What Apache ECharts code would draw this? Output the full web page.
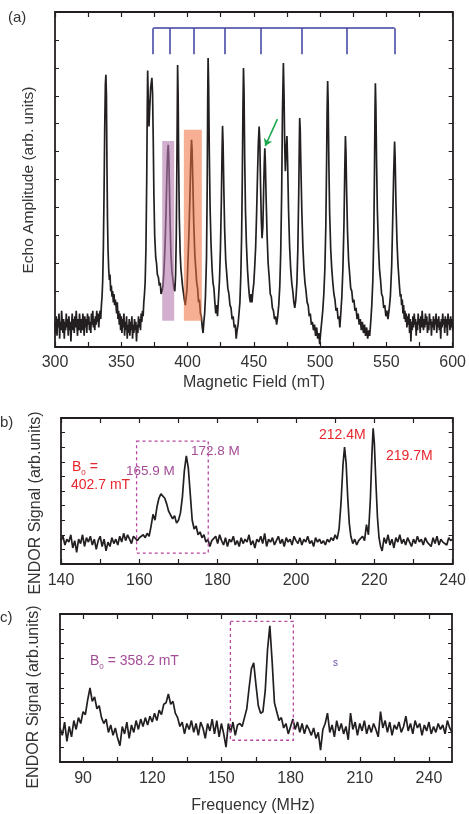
<!DOCTYPE html>
<html>
<head>
<meta charset="utf-8">
<script src="https://cdn.jsdelivr.net/npm/echarts@6/dist/echarts.min.js"></script>
<style>
html, body { margin: 0; background: #fff; }
#chart { width: 469px; height: 814px; }
</style>
</head>
<body>
<div id="chart"></div>
<script>
// (a) echo-detected field sweep: [field mT, amplitude]
const echoData = [
  [300,0.9],[300.5,0.5],[301,1.1],[301.5,0.4],[302,1.0],[302.5,0.7],[303,1.2],[303.5,0.3],[304,0.9],[304.5,0.6],
  [305,1.3],[305.5,0.8],[306,0.5],[306.5,1.0],[307,0.3],[307.5,0.9],[308,0.6],[308.5,1.2],[309,0.7],[309.5,1.0],
  [310,0.4],[310.5,1.1],[311,0.6],[311.5,0.9],[312,0.2],[312.5,0.8],[313,1.2],[313.5,0.6],[314,1.0],[314.5,0.5],
  [315,1.1],[315.5,0.7],[316,1.3],[316.5,0.8],[317,0.4],[317.5,1.0],[318,0.6],[318.5,1.2],[319,0.8],[319.5,0.5],
  [320,1.0],[320.5,0.6],[321,1.2],[321.5,0.9],[322,0.4],[322.5,1.1],[323,0.7],[323.5,1.0],[324,0.5],[324.5,1.2],
  [325,0.8],[325.5,1.1],[326,0.6],[326.5,0.9],[327,0.5],[327.5,1.2],[328,0.8],[328.5,1.3],[329,0.7],[329.5,1.0],
  [330,0.6],[330.5,1.1],[331,0.8],[331.5,1.3],[332,0.9],[332.5,1.2],[333,0.7],[333.5,1.1],[334,1.3],[334.5,1.0],
  [335,1.5],[335.5,1.8],[336,2.4],[336.5,3.6],[337,5.5],[337.5,7.8],[338,9.4],[338.4,9.75],[338.8,9.0],[339.2,6.5],
  [339.6,4.6],[340,3.5],[340.5,2.8],[341,2.4],[341.5,2.6],[342,2.0],[342.5,2.2],[343,1.8],[343.5,2.0],[344,1.6],
  [344.5,1.9],[345,1.5],[345.5,1.7],[346,1.5],[346.5,1.2],[347,1.6],[347.5,1.0],[348,1.3],[348.5,0.8],[349,1.2],
  [349.5,0.6],[350,1.1],[350.5,0.5],[351,1.0],[351.5,0.7],[352,1.2],[352.5,0.4],[353,0.9],[353.5,0.6],[354,1.1],
  [354.5,0.3],[355,0.8],[355.5,0.5],[356,1.0],[356.5,0.4],[357,0.9],[357.5,0.6],[358,1.1],[358.5,0.3],[359,0.8],
  [359.5,0.5],[360,1.0],[360.5,0.6],[361,0.9],[361.5,0.2],[362,0.8],[362.5,0.5],[363,1.1],[363.5,0.7],[364,1.0],
  [364.5,0.6],[365,1.2],[365.5,0.9],[366,1.3],[366.5,1.1],[367,1.6],[367.5,1.9],[368,2.3],[368.6,3.5],[369.2,6.0],
  [369.6,8.5],[369.9,9.9],[370.4,8.8],[370.9,7.9],[371.5,8.6],[372.2,9.3],[373.1,9.64],[373.6,9.1],[374.1,7.5],[374.6,5.5],
  [375.2,4.0],[376,3.2],[376.6,3.0],[377.2,2.6],[378,2.5],[378.7,2.2],[379.4,2.3],[380,1.9],[380.8,2.0],[381.5,2.2],
  [382.3,2.8],[383,3.6],[383.8,4.9],[384.5,6.3],[385,7.0],[385.4,7.24],[385.8,6.9],[386.3,5.8],[386.9,4.3],[387.5,3.3],
  [388.2,2.7],[389,2.4],[389.7,2.1],[390.4,2.0],[391,2.6],[391.5,4.0],[392,6.8],[392.5,10.1],[392.9,9.0],[393.3,6.6],
  [393.8,4.6],[394.4,3.4],[395,2.8],[395.6,2.5],[396.2,2.2],[397,1.9],[397.6,1.7],[398.3,1.5],[399,1.8],[399.6,2.1],
  [400.2,2.9],[401,4.0],[401.8,5.4],[402.5,6.8],[403,7.42],[403.4,7.1],[404,5.9],[404.7,4.4],[405.5,3.3],[406.2,2.8],
  [406.9,2.3],[407.6,2.1],[408.3,1.6],[409,1.7],[409.7,1.2],[410.4,1.1],[411.1,0.7],[411.7,0.5],[412.3,0.9],[412.9,1.2],
  [413.5,1.8],[414.3,3.2],[414.8,5.6],[415.2,8.8],[415.5,10.35],[415.9,9.4],[416.4,7.0],[417,5.0],[417.7,3.7],[418.5,2.8],
  [419.2,2.3],[419.9,2.1],[420.6,1.6],[421.3,1.2],[421.9,1.5],[422.6,1.1],[423.3,1.7],[424.1,2.4],[424.8,3.5],[425.5,5.2],
  [426,6.9],[426.4,7.92],[426.8,7.3],[427.4,5.6],[428,4.2],[428.8,3.1],[429.6,2.6],[430.4,2.1],[431.2,1.9],[432,1.5],
  [432.8,1.4],[433.6,1.0],[434.4,1.1],[435.2,0.7],[436,0.8],[436.7,0.3],[437.4,0.6],[438.1,0.8],[438.8,1.2],[439.5,1.6],
  [440.2,2.6],[440.8,4.0],[441.3,6.0],[441.8,8.6],[442.2,9.99],[442.6,9.2],[443.1,6.8],[443.7,4.9],[444.4,3.7],[445.2,2.8],
  [446,2.2],[446.7,1.8],[447.4,1.6],[448,1.9],[448.6,1.6],[449.3,2.0],[450,2.3],[450.7,2.9],[451.4,3.6],[452.1,4.8],
  [452.8,6.2],[453.4,7.3],[454,7.9],[454.5,7.4],[455,6.0],[455.6,4.6],[456.2,3.9],[456.8,4.3],[457.4,5.6],[457.9,6.6],
  [458.3,7.12],[458.7,6.6],[459.3,5.3],[460,4.0],[460.8,3.0],[461.6,2.5],[462.4,1.9],[463.2,1.8],[464,1.4],[464.8,1.3],
  [465.6,1.0],[466.4,1.1],[467.2,0.8],[468,1.1],[468.8,1.5],[469.6,2.2],[470.3,3.4],[471,5.5],[471.6,8.4],[472.3,10.17],
  [472.8,9.0],[473.3,7.2],[473.8,6.3],[474.3,7.0],[475,7.56],[475.5,6.6],[476.2,4.9],[477,3.6],[477.8,2.8],[478.6,2.3],
  [479.4,2.0],[480.2,1.6],[480.9,1.4],[481.7,1.7],[482.5,2.3],[483.2,3.5],[483.9,5.6],[484.3,7.2],[484.6,8.2],[485,7.8],
  [485.5,6.5],[486.2,4.9],[487,3.6],[487.8,2.8],[488.6,2.3],[489.4,2.0],[490.2,1.6],[491,1.5],[491.8,1.1],[492.6,1.2],
  [493.4,0.8],[494.2,0.9],[495,0.6],[495.8,0.8],[496.6,0.4],[497.4,0.7],[498.2,0.3],[499,0.5],[499.7,0.1],[500.4,0.5],
  [501.2,0.9],[502,1.3],[502.8,1.9],[503.6,2.8],[504.3,4.3],[504.9,6.6],[505.3,8.5],[505.7,9.53],[506.1,8.7],[506.6,6.6],
  [507.2,4.8],[508,3.5],[508.8,2.8],[509.6,2.3],[510.4,1.9],[511.2,1.7],[512,1.3],[512.8,1.4],[513.6,1.0],[514.3,1.1],
  [514.9,0.7],[515.6,1.2],[516.4,1.8],[517.2,2.8],[518,4.4],[518.6,6.3],[519.1,7.56],[519.5,7.0],[520,5.6],[520.7,4.1],
  [521.5,3.1],[522.3,2.6],[523.1,2.1],[523.9,2.0],[524.7,1.6],[525.5,1.7],[526.3,1.3],[527.1,1.4],[527.9,1.0],[528.7,1.2],
  [529.5,0.8],[530.3,1.0],[531.1,0.6],[531.9,0.9],[532.7,0.5],[533.5,0.8],[534.3,0.4],[535.1,0.7],[535.9,0.3],[536.7,0.6],
  [537.4,0.4],[538.2,0.9],[539,1.5],[539.8,2.4],[540.5,4.0],[541,6.2],[541.4,8.4],[541.7,9.45],[542.1,8.6],[542.6,6.6],
  [543.2,4.9],[544,3.6],[544.8,2.8],[545.6,2.4],[546.4,1.9],[547.2,1.8],[548,1.4],[548.8,1.5],[549.6,1.1],[550.4,1.3],
  [551.2,1.0],[552,1.3],[553,1.8],[554,2.9],[554.8,4.6],[555.5,6.2],[556.2,7.36],[556.6,6.8],[557.2,5.2],[558,3.8],
  [558.7,3.0],[559.4,2.5],[560,2.1],[560.5,1.8],[561,1.9],[561.5,1.5],[562,1.7],[562.5,1.2],[563,1.5],[563.5,1.0],
  [564,1.3],[564.5,0.9],[565,1.2],[565.5,0.7],[566,1.1],[566.5,0.8],[567,1.2],[567.5,0.5],[568,1.0],[568.5,0.2],
  [569,0.9],[569.5,0.6],[570,1.1],[570.5,0.7],[571,1.2],[571.5,0.8],[572,1.0],[572.5,0.4],[573,0.9],[573.5,0.6],
  [574,1.2],[574.5,0.8],[575,1.0],[575.5,0.5],[576,1.1],[576.5,0.7],[577,1.3],[577.5,0.9],[578,0.6],[578.5,1.0],
  [579,0.7],[579.5,1.2],[580,0.8],[580.5,1.1],[581,0.5],[581.5,0.9],[582,0.6],[582.5,1.2],[583,0.8],[583.5,1.0],
  [584,0.4],[584.5,0.9],[585,0.7],[585.5,1.1],[586,0.6],[586.5,1.0],[587,0.8],[587.5,1.2],[588,0.5],[588.5,1.0],
  [589,0.7],[589.5,1.1],[590,0.6],[590.5,0.9],[591,0.3],[591.5,1.0],[592,0.7],[592.5,1.2],[593,0.8],[593.5,1.0],
  [594,0.5],[594.5,1.1],[595,0.7],[595.5,1.0],[596,0.4],[596.5,1.2],[597,0.8],[597.5,1.0],[598,0.6],[598.5,1.1],
  [599,0.7],[599.5,1.0],[600,0.6]
];

// (a) comb of line positions (mT) and its top / tooth levels
const combFields = [374.1, 386.9, 404.7, 428.1, 455, 485.9, 519.8, 556.2];
const combTop = 11.42;
const combTooth = 10.49;
// highlighted field windows [x0, x1, y0, y1]
const pinkBox = [380.9, 389.9, 0.94, 7.38];
const orangeBox = [397.2, 410.8, 0.94, 7.78];
// arrow from -> to
const arrowFrom = [467.8, 8.16];
const arrowTo = [458.6, 7.2];

// (b) ENDOR at 402.7 mT: [MHz, signal]
const endorB = [
  [140,1.6],[140.5,1.9],[141,1.3],[141.5,1.7],[142,1.5],[142.5,2.0],[143,1.1],[143.5,1.6],[144,0.8],[144.5,1.7],
  [145,1.4],[145.5,2.0],[146,1.2],[146.5,1.8],[147,1.5],[147.5,1.9],[148,1.3],[148.5,1.7],[149,1.0],[149.5,1.6],
  [150,1.9],[150.5,1.2],[151,1.7],[151.5,0.9],[152,1.5],[152.5,1.2],[153,1.8],[153.5,1.4],[154,1.7],[154.5,1.3],
  [155,1.9],[155.5,1.5],[156,2.1],[156.5,1.6],[157,2.0],[157.5,1.7],[158,1.4],[158.5,1.9],[159,2.0],[159.5,1.6],
  [160,1.8],[160.5,1.7],[161,2.0],[161.5,1.8],[162,2.1],[162.5,1.9],[163,2.6],[163.5,3.4],[164,3.0],[164.5,3.9],
  [165,4.5],[165.5,4.8],[166,4.9],[166.5,4.5],[167,4.1],[167.5,3.6],[168,3.7],[168.5,3.1],[169,3.3],[169.5,2.8],
  [170,3.0],[170.5,3.5],[171,4.6],[171.5,6.4],[172,7.4],[172.5,6.6],[173,4.8],[173.5,3.0],[174,2.4],[174.5,2.6],
  [175,2.0],[175.5,2.2],[176,1.8],[176.5,2.0],[177,1.5],[177.5,1.7],[178,1.2],[178.5,1.6],[179,1.5],[179.5,1.9],
  [180,1.4],[180.5,2.0],[181,1.6],[181.5,1.3],[182,1.8],[182.5,1.2],[183,1.7],[183.5,1.5],[184,1.9],[184.5,1.3],
  [185,1.6],[185.5,1.2],[186,1.8],[186.5,1.4],[187,1.7],[187.5,1.5],[188,2.0],[188.5,1.3],[189,1.6],[189.5,1.1],
  [190,1.7],[190.5,1.5],[191,1.9],[191.5,1.4],[192,2.1],[192.5,1.2],[193,1.7],[193.5,1.5],[194,1.8],[194.5,1.3],
  [195,1.6],[195.5,1.9],[196,1.4],[196.5,1.7],[197,1.2],[197.5,1.8],[198,1.5],[198.5,1.7],[199,1.3],[199.5,1.9],
  [200,1.6],[200.5,1.4],[201,1.8],[201.5,1.3],[202,1.7],[202.5,1.5],[203,1.9],[203.5,1.4],[204,1.6],[204.5,1.2],
  [205,1.8],[205.5,1.5],[206,1.7],[206.5,1.4],[207,1.6],[207.5,1.3],[208,1.7],[208.5,1.5],[209,1.8],[209.5,1.6],
  [210,2.0],[210.5,1.7],[211,2.4],[211.5,4.2],[212,6.8],[212.4,8.0],[212.8,6.9],[213.2,4.6],[213.6,2.8],[214,1.9],
  [214.5,1.4],[215,1.7],[215.5,1.3],[216,1.6],[216.5,1.5],[217,1.9],[217.5,1.6],[218,2.7],[218.5,2.0],[219,4.5],
  [219.4,7.6],[219.7,9.3],[220,8.3],[220.4,5.6],[220.8,3.2],[221.2,1.8],[221.6,1.2],[222,0.9],[222.5,1.8],[223,1.4],
  [223.5,2.0],[224,1.3],[224.5,1.7],[225,1.1],[225.5,1.8],[226,1.5],[226.5,2.0],[227,1.4],[227.5,1.7],[228,1.3],
  [228.5,1.8],[229,1.5],[229.5,1.2],[230,1.7],[230.5,1.4],[231,1.9],[231.5,1.5],[232,1.7],[232.5,1.3],[233,1.8],
  [233.5,1.5],[234,1.6],[234.5,1.2],[235,1.8],[235.5,1.4],[236,1.9],[236.5,1.3],[237,1.7],[237.5,1.5],[238,1.6],
  [238.5,1.3],[239,1.8],[239.5,1.6],[240,1.7]
];
const boxB = [159.3, 177.6, 0.75, 8.41];

// (c) ENDOR at 358.2 mT: [MHz, signal]
const endorC = [
  [80,2.3],[81,1.8],[82,2.7],[83,1.4],[84,2.4],[85,1.7],[86,2.8],[87,2.2],[88,3.0],[89,2.6],
  [90,3.4],[91,3.2],[92,4.2],[93,5.0],[94,4.1],[95,4.4],[96,3.6],[97,3.8],[98,3.0],[99,2.6],
  [100,2.9],[101,2.0],[102,2.5],[103,1.8],[104,2.3],[105,1.6],[106,1.1],[107,2.4],[108,1.9],[109,2.7],
  [110,1.6],[111,2.5],[112,2.0],[113,2.8],[114,2.2],[115,2.9],[116,2.4],[117,3.0],[118,2.5],[119,3.1],
  [120,2.7],[121,3.3],[122,2.8],[123,3.5],[124,3.2],[125,3.9],[126,4.0],[127,4.6],[128,3.9],[129,4.1],
  [130,3.3],[131,3.0],[132,2.4],[133,2.7],[134,1.9],[135,2.6],[136,2.2],[137,2.8],[138,2.0],[139,2.6],
  [140,1.8],[141,2.7],[142,2.3],[143,1.6],[144,2.6],[145,2.1],[146,2.9],[147,1.9],[148,2.8],[149,1.7],
  [150,2.6],[151,1.9],[152,1.0],[153,2.6],[154,2.0],[155,2.7],[156,1.8],[157,2.5],[158,2.6],[159,2.4],
  [160,3.0],[161,3.6],[162,5.0],[163,6.3],[164,6.7],[165,5.2],[166,3.8],[167,3.3],[168,3.4],[169,4.8],
  [170,7.6],[171,9.2],[172,6.8],[173,4.0],[174,3.4],[175,2.8],[176,3.0],[177,2.3],[178,2.6],[179,1.9],
  [180,2.4],[181,2.9],[182,2.2],[183,2.7],[184,2.0],[185,2.6],[186,1.9],[187,2.5],[188,2.2],[189,1.8],
  [190,2.3],[191,1.6],[192,2.0],[193,0.8],[194,2.2],[195,2.6],[196,3.3],[197,2.0],[198,2.5],[199,1.7],
  [200,2.8],[201,2.1],[202,2.6],[203,1.9],[204,2.4],[205,1.5],[206,3.3],[207,2.2],[208,2.7],[209,1.8],
  [210,2.6],[211,2.1],[212,2.8],[213,1.9],[214,2.5],[215,2.0],[216,2.6],[217,2.2],[218,1.7],[219,3.4],
  [220,2.3],[221,2.8],[222,2.0],[223,2.7],[224,1.8],[225,2.5],[226,2.2],[227,2.7],[228,2.0],[229,2.4],
  [230,3.1],[231,2.1],[232,2.6],[233,1.9],[234,2.8],[235,2.3],[236,2.6],[237,1.8],[238,2.5],[239,2.1],
  [240,2.7],[241,1.9],[242,2.4],[243,2.0],[244,2.6],[245,2.2],[246,2.5],[247,1.9],[248,2.8],[249,2.3],
  [250,2.0]
];
const boxC = [153.9, 181.2, 1.47, 9.5];
const ticksC = [90, 105, 120, 135, 150, 165, 180, 195, 210, 225, 240];
const labelsC = [90, 120, 150, 180, 210, 240];

const FONT = 'Liberation Sans';
const INK = '#231f20';
const RED = '#e8262d';
const PURPLE = '#a44d97';

const chart = echarts.init(document.getElementById('chart'));

function xAx(grid, top, min, max, extra) {
  return Object.assign({
    type: 'value', gridIndex: grid, position: top ? 'top' : 'bottom', min, max,
    axisLine: { onZero: false, lineStyle: { color: INK, width: 1.8 } },
    axisTick: { inside: true, length: 5, lineStyle: { color: INK, width: 1.2 } },
    axisLabel: top ? { show: false } : { margin: 8, fontSize: 16, color: '#333', fontFamily: FONT },
    splitLine: { show: false }
  }, extra);
}
function yAx(grid, right, max) {
  return {
    type: 'value', gridIndex: grid, position: right ? 'right' : 'left', min: 0, max, interval: 1,
    axisLine: { onZero: false, lineStyle: { color: INK, width: 1.8 } },
    axisTick: { inside: true, length: 4, lineStyle: { color: INK, width: 1 } },
    axisLabel: { show: false },
    splitLine: { show: false }
  };
}
function line(i, data) {
  return {
    type: 'line', xAxisIndex: i, yAxisIndex: i, data, symbol: 'none',
    lineStyle: { color: INK, width: 1.7 }, z: 2
  };
}
function boxSeries(i, boxes, style) {
  return {
    type: 'custom', xAxisIndex: i, yAxisIndex: i, z: 3, data: boxes,
    encode: { x: [0, 1], y: [2, 3] },
    renderItem: function (params, api) {
      const p0 = api.coord([api.value(0), api.value(3)]);
      const p1 = api.coord([api.value(1), api.value(2)]);
      return { type: 'rect', shape: { x: p0[0], y: p0[1], width: p1[0] - p0[0], height: p1[1] - p0[1] }, style: style(params.dataIndex) };
    }
  };
}

const combLines = [{ coords: [[combFields[0], combTop], [combFields[combFields.length - 1], combTop]] }]
  .concat(combFields.map(f => ({ coords: [[f, combTop], [f, combTooth]] })));

const highlight = ['rgba(180,120,175,0.6)', 'rgba(240,110,60,0.55)'];
const dotted = () => ({ fill: 'none', stroke: '#b8479f', lineWidth: 1.3, lineDash: [3, 3] });

function txt(x, y, text, color, size, align) {
  return {
    type: 'text', x, y,
    style: { text, fill: color, font: size + 'px "' + FONT + '"', textAlign: align || 'left', textVerticalAlign: 'middle' }
  };
}
function vtxt(x, y, text, size) {
  return {
    type: 'text', x, y, rotation: Math.PI / 2,
    style: { text, fill: '#333', font: size + 'px "' + FONT + '"', textAlign: 'center', textVerticalAlign: 'middle' }
  };
}
const subRich = { s: { fontSize: 8, fontFamily: FONT, verticalAlign: 'bottom', padding: [0, 0, -2, 0] } };

chart.setOption({
  animation: false,
  grid: [
    { left: 55, top: 12, width: 398, height: 335 },
    { left: 61, top: 418, width: 392, height: 146 },
    { left: 60, top: 614, width: 392, height: 148 }
  ],
  xAxis: [
    xAx(0, false, 300, 600, { interval: 25, axisLabel: { margin: 8, fontSize: 16, color: '#333', fontFamily: FONT, formatter: v => (v % 50 === 0 ? v : '') } }),
    xAx(0, true, 300, 600, { interval: 25 }),
    xAx(1, false, 140, 240, { interval: 10, axisLabel: { margin: 9, fontSize: 16, color: '#333', fontFamily: FONT, formatter: v => (v % 20 === 0 ? v : '') } }),
    xAx(1, true, 140, 240, { interval: 10 }),
    xAx(2, false, 80, 250, {
      axisTick: { inside: true, length: 5, customValues: ticksC, lineStyle: { color: INK, width: 1.2 } },
      axisLabel: { margin: 9, fontSize: 16, color: '#333', fontFamily: FONT, customValues: labelsC }
    }),
    xAx(2, true, 80, 250, {
      axisTick: { inside: true, length: 5, customValues: ticksC, lineStyle: { color: INK, width: 1.2 } }
    })
  ],
  yAxis: [yAx(0, false, 12), yAx(0, true, 12), yAx(1, false, 10), yAx(1, true, 10), yAx(2, false, 10), yAx(2, true, 10)],
  series: [
    line(0, echoData),
    boxSeries(0, [pinkBox, orangeBox], i => ({ fill: highlight[i] })),
    {
      type: 'lines', coordinateSystem: 'cartesian2d', xAxisIndex: 0, yAxisIndex: 0, z: 4,
      data: combLines, lineStyle: { color: '#3b3f9f', width: 1.5, opacity: 1 }
    },
    {
      type: 'lines', coordinateSystem: 'cartesian2d', xAxisIndex: 0, yAxisIndex: 0, z: 4,
      symbol: ['none', 'arrow'], symbolSize: 7,
      data: [{ coords: [arrowFrom, arrowTo] }], lineStyle: { color: '#1aa84c', width: 1.6, opacity: 1 }
    },
    line(2, endorB),
    boxSeries(2, [boxB], dotted),
    line(4, endorC),
    boxSeries(4, [boxC], dotted)
  ],
  graphic: [
    txt(8, 18, '(a)', '#333', 15),
    txt(0, 423, 'b)', '#333', 15),
    txt(0, 618, 'c)', '#333', 15),
    vtxt(29, 180, 'Echo Amplitude (arb. units)', 15.5),
    vtxt(36, 503, 'ENDOR Signal (arb.units)', 16),
    vtxt(34, 697, 'ENDOR Signal (arb.units)', 16),
    txt(254, 383, 'Magnetic Field (mT)', '#333', 16, 'center'),
    txt(253, 806, 'Frequency (MHz)', '#333', 16, 'center'),
    { type: 'text', x: 72, y: 467.5, style: { text: 'B{s|0} =', rich: subRich, fill: RED, font: '14px "' + FONT + '"', textVerticalAlign: 'middle' } },
    txt(71, 485, '402.7 mT', RED, 14),
    txt(126, 471.5, '165.9 M', PURPLE, 13.5),
    txt(191, 451.5, '172.8 M', PURPLE, 13.5),
    txt(319, 435.5, '212.4M', RED, 14),
    txt(386, 456, '219.7M', RED, 14),
    { type: 'text', x: 90, y: 661.5, style: { text: 'B{s|0} = 358.2 mT', rich: subRich, fill: PURPLE, font: '14px "' + FONT + '"', textVerticalAlign: 'middle' } },
    txt(333, 663, 's', '#6a4aa8', 10)
  ]
});
</script>
</body>
</html>
